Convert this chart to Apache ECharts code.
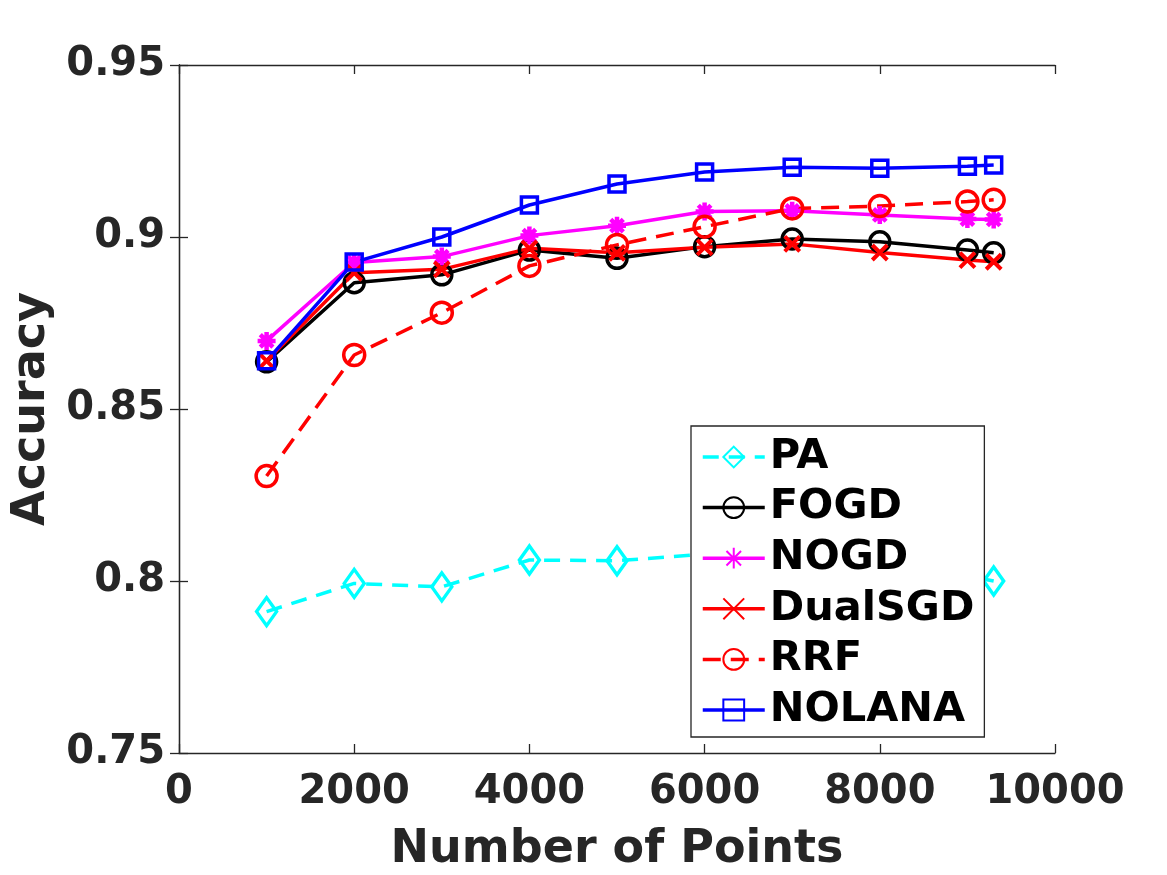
<!DOCTYPE html>
<html>
<head>
<meta charset="utf-8">
<script src="https://cdn.jsdelivr.net/npm/echarts@6/dist/echarts.min.js"></script>
<style>html,body{margin:0;padding:0;background:#fff;}#c{width:1167px;height:875px;}</style>
</head>
<body>
<div id="c"></div>
<script>
const xs = [1000, 2000, 3000, 4000, 5000, 6000, 7000, 8000, 9000, 9300];
const PA      = [0.7911, 0.7993, 0.7983, 0.8061, 0.8059, 0.8078, 0.8070, 0.8045, 0.8015, 0.8000];
const FOGD    = [0.8637, 0.8867, 0.8890, 0.8962, 0.8938, 0.8972, 0.8994, 0.8986, 0.8962, 0.8954];
const NOGD    = [0.8698, 0.8926, 0.8943, 0.9004, 0.9033, 0.9074, 0.9076, 0.9064, 0.9052, 0.9051];
const DualSGD = [0.8640, 0.8896, 0.8906, 0.8967, 0.8954, 0.8970, 0.8980, 0.8955, 0.8933, 0.8928];
const RRF     = [0.8305, 0.8657, 0.8780, 0.8916, 0.8977, 0.9030, 0.9083, 0.9090, 0.9103, 0.9108];
const NOLANA  = [0.8640, 0.8927, 0.9000, 0.9093, 0.9154, 0.9189, 0.9203, 0.9200, 0.9206, 0.9209];
const xTicks = [0, 2000, 4000, 6000, 8000, 10000];
const yTicks = [0.75, 0.8, 0.85, 0.9, 0.95];

const FONT = 'DejaVu Sans';
const AX = '#262626';
const pair = arr => xs.map((x, i) => [x, arr[i]]);
const ASTER = 'path://M0,-10L0,10M-10,0L10,0M-7,-7L7,7M-7,7L7,-7';
const CROSS = 'path://M-10,-10L10,10M-10,10L10,-10';

function mk(name, data, color, symbol, size, dashed, bw) {
  return {
    name, type: 'line', data: pair(data),
    symbol, symbolSize: size, showSymbol: true,
    lineStyle: { color, width: 3.5, type: dashed ? dashed : 'solid' },
    itemStyle: { color: 'rgba(255,255,255,0)', borderColor: color, borderWidth: bw || 3.5 },
    emphasis: { disabled: true },
    animation: false
  };
}

const chart = echarts.init(document.getElementById('c'), null, { renderer: 'canvas' });
const axisCommon = {
  axisLine: { show: true, lineStyle: { color: AX, width: 1.3 } },
  axisTick: { show: true, inside: true, length: 9, lineStyle: { color: AX, width: 1.3 } },
  splitLine: { show: false }
};
chart.setOption({
  backgroundColor: '#fff',
  animation: false,
  grid: { left: 179, right: 112, top: 65, bottom: 122, containLabel: false, outerBoundsMode: 'none' },
  xAxis: [
    Object.assign({
      type: 'value', min: xTicks[0], max: xTicks[xTicks.length - 1], interval: 2000,
      name: 'Number of Points', nameLocation: 'middle', nameGap: 74,
      nameTextStyle: { fontFamily: FONT, fontWeight: 'bold', fontSize: 46, color: AX },
      axisLabel: { fontFamily: FONT, fontWeight: 'bold', fontSize: 40, color: AX, margin: 20,
        formatter: v => String(v) }
    }, axisCommon),
    Object.assign({
      type: 'value', position: 'top', min: xTicks[0], max: xTicks[xTicks.length - 1], interval: 2000,
      axisLabel: { show: false }
    }, axisCommon)
  ],
  yAxis: [
    Object.assign({
      type: 'value', min: yTicks[0], max: yTicks[yTicks.length - 1], interval: 0.05,
      name: 'Accuracy', nameLocation: 'middle', nameGap: 124, nameRotate: 90,
      nameTextStyle: { fontFamily: FONT, fontWeight: 'bold', fontSize: 46, color: AX },
      axisLabel: { fontFamily: FONT, fontWeight: 'bold', fontSize: 40, color: AX, margin: 14,
        formatter: v => String(+v.toFixed(2)) }
    }, axisCommon),
    Object.assign({
      type: 'value', position: 'right', min: yTicks[0], max: yTicks[yTicks.length - 1], interval: 0.05,
      axisLabel: { show: false }
    }, axisCommon)
  ],
  legend: {
    orient: 'vertical', left: 691, top: 426,
    backgroundColor: '#fff', borderColor: AX, borderWidth: 1.3,
    padding: [9, 10, 5, 10], itemGap: 6.6, itemWidth: 62, itemHeight: 26,
    lineStyle: { width: 3.5 },
    textStyle: { fontFamily: FONT, fontWeight: 'bold', fontSize: 41.5, color: '#000', lineHeight: 44 },
    data: ['PA', 'FOGD', 'NOGD', 'DualSGD', 'RRF', 'NOLANA']
  },
  series: [
    mk('PA', PA, '#00FFFF', 'diamond', [20, 28], [16, 10]),
    mk('FOGD', FOGD, '#000000', 'circle', 20, null),
    mk('NOGD', NOGD, '#FF00FF', ASTER, 18, null, 4.5),
    mk('DualSGD', DualSGD, '#FF0000', CROSS, 15, null, 4),
    mk('RRF', RRF, '#FF0000', 'circle', 21, [18, 10]),
    mk('NOLANA', NOLANA, '#0000FF', 'rect', 16, null)
  ]
});
</script>
</body>
</html>
